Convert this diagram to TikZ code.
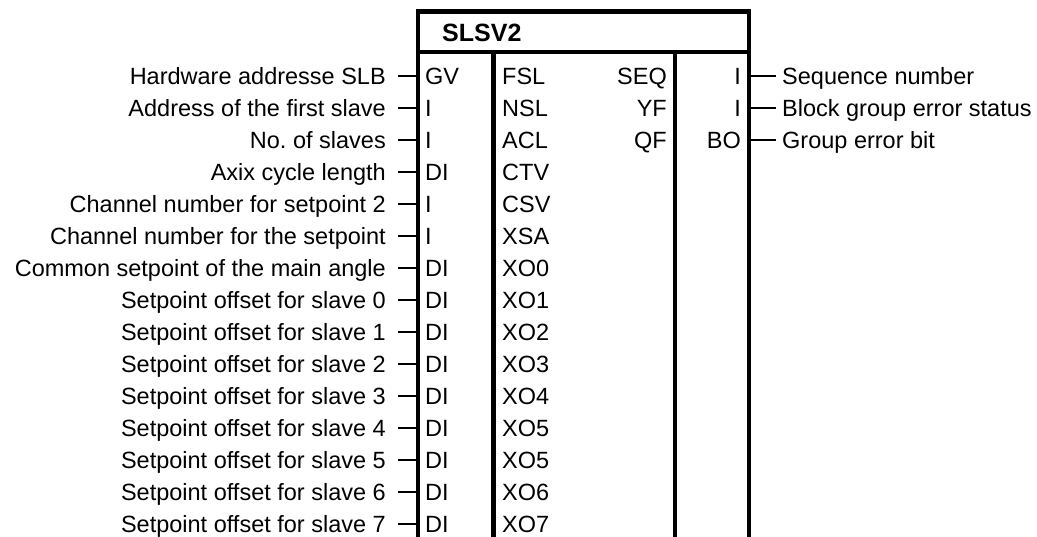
\documentclass[tikz,border=0pt]{standalone}
\usepackage{fontspec}
\setmainfont{Liberation Sans}
\frenchspacing
\begin{document}
\begin{tikzpicture}[x=1pt,y=-1pt,
  frame/.style={line width=4.5pt},
  stub/.style={line width=1.5pt},
  txt/.style={inner sep=0pt,text height=16.8pt,text depth=0pt,font=\fontsize{23.5}{28}\selectfont},
  lab/.style={txt,anchor=east},
  pinl/.style={txt,anchor=west},
  pinr/.style={txt,anchor=east},
  hdr/.style={inner sep=0pt,anchor=west,font=\fontsize{25}{30}\selectfont\bfseries}]
\useasboundingbox (0,0) rectangle (1037,536);
% frame
\draw[frame] (418,540) -- (418,11.5) -- (749,11.5) -- (749,540);
\draw[frame] (418,52) -- (749,52);
\draw[frame] (493.5,52) -- (493.5,540);
\draw[frame] (675,52) -- (675,540);
\node[hdr] (title) at (442,33) {SLSV2};
% inputs
\foreach \i/\t/\p/\q in {
 0/Hardware addresse SLB/GV/FSL,
 1/Address of the first slave/I/NSL,
 2/No. of slaves/I/ACL,
 3/Axix cycle length/DI/CTV,
 4/Channel number for setpoint 2/I/CSV,
 5/Channel number for the setpoint/I/XSA,
 6/Common setpoint of the main angle/DI/XO0,
 7/Setpoint offset for slave 0/DI/XO1,
 8/Setpoint offset for slave 1/DI/XO2,
 9/Setpoint offset for slave 2/DI/XO3,
 10/Setpoint offset for slave 3/DI/XO4,
 11/Setpoint offset for slave 4/DI/XO5,
 12/Setpoint offset for slave 5/DI/XO5,
 13/Setpoint offset for slave 6/DI/XO6,
 14/Setpoint offset for slave 7/DI/XO7}{
  \pgfmathsetmacro{\y}{76+32*\i}
  \node[lab] (in\i) at (386,\y) {\t};
  \coordinate (ia\i) at (398,\y);
  \coordinate (ib\i) at (418,\y);
  \draw[stub] (ia\i) -- (ib\i);
  \node[pinl] (ip\i) at (425,\y) {\p};
  \node[pinl] (iq\i) at (502,\y) {\q};
}
% outputs
\foreach \i/\t/\p/\q in {
 0/Sequence number/I/SEQ,
 1/Block group error status/I/YF,
 2/Group error bit/BO/QF}{
  \pgfmathsetmacro{\y}{76+32*\i}
  \node[pinr] (oq\i) at (667,\y) {\q};
  \node[pinr] (op\i) at (741,\y) {\p};
  \coordinate (oa\i) at (749,\y);
  \coordinate (ob\i) at (776,\y);
  \draw[stub] (oa\i) -- (ob\i);
  \node[txt,anchor=west] (out\i) at (782,\y) {\t};
}
\end{tikzpicture}
\end{document}
